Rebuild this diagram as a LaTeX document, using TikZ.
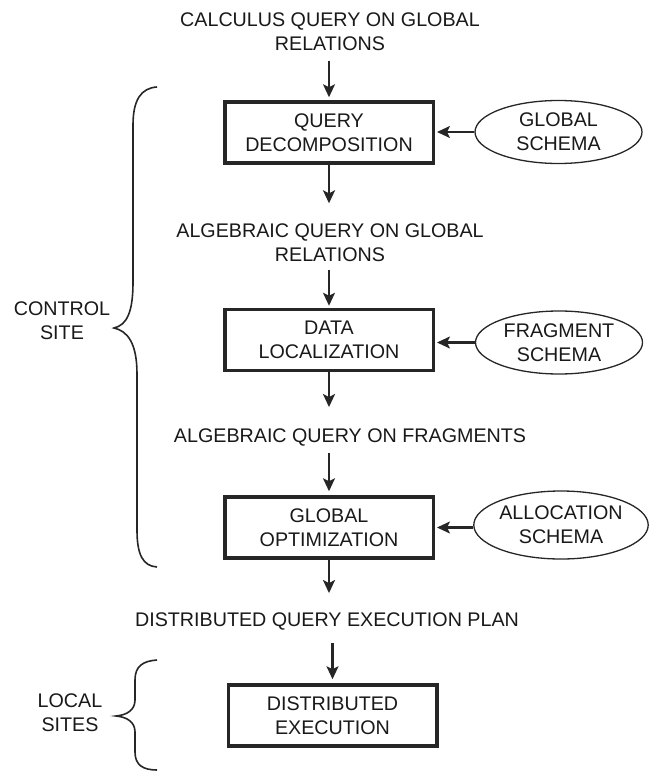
\documentclass[tikz,border=0pt]{standalone}
\usepackage{fontspec}
\setmainfont{Liberation Sans}
\usetikzlibrary{arrows.meta,shapes.geometric}

\tikzset{
  stage/.style={draw=black!85, line width=3.5pt, minimum width=208.5pt, minimum height=61pt, align=center, inner sep=0pt},
  schema/.style={ellipse, draw=black!85, line width=1.3pt, minimum width=167pt, minimum height=63pt, align=center, inner sep=0pt},
  msg/.style={align=center, inner sep=0pt},
  flow/.style={-{Stealth[length=13pt,width=12pt,inset=3pt]}, line width=2.2pt, draw=black!85},
  curly/.style={line width=1.6pt, draw=black!85}
}

\begin{document}
\begin{tikzpicture}[x=1pt, y=-1pt, every node/.style={font=\fontsize{19.7}{24}\selectfont, text=black!90}]
\useasboundingbox (0,0) rectangle (652,773);
% main column
\node [msg] (calc) at (330,31.5) {CALCULUS QUERY ON GLOBAL\\RELATIONS};
\node [stage] (decomp) at (329,132.5) {QUERY\\DECOMPOSITION};
\node [msg] (alg) at (330,242.5) {ALGEBRAIC QUERY ON GLOBAL\\RELATIONS};
\node [stage] (local) at (329,340) {DATA\\LOCALIZATION};
\node [msg] (frag) at (350,437) {ALGEBRAIC QUERY ON FRAGMENTS};
\node [stage] (optim) at (329,527.5) {GLOBAL\\OPTIMIZATION};
\node [msg] (plan) at (327,621) {DISTRIBUTED QUERY EXECUTION PLAN};
\node [stage] (exec) at (332.5,715.5) {DISTRIBUTED\\EXECUTION};
% schemas
\node [schema] (gs) at (558.5,132) {GLOBAL\\SCHEMA};
\node [schema] (fs) at (559,342.5) {FRAGMENT\\SCHEMA};
\node [schema, minimum height=68pt] (as) at (561,525) {ALLOCATION\\SCHEMA};
% flow arrows
\draw [flow, shorten <=10pt, shorten >=3pt] (calc.south -| decomp) -- (decomp.north);
\draw [flow, shorten >=20pt] (decomp.south) -- (decomp.south |- alg.north);
\draw [flow, shorten <=8pt, shorten >=2pt] (alg.south -| local) -- (local.north);
\draw [flow, shorten >=21pt] (local.south) -- (local.south |- frag.north);
\draw [flow, shorten <=7pt, shorten >=4pt] (frag.south -| optim) -- (optim.north);
\draw [flow, shorten >=19pt] (optim.south) -- (optim.south |- plan.north);
\draw [flow, shorten <=13pt, shorten >=4pt] (plan.south -| exec) -- (exec.north);
\draw [flow, shorten >=2pt] (gs.west) -- (decomp.east |- gs.west);
\draw [flow, shorten >=2pt] (fs.west) -- (local.east |- fs.west);
\draw [flow, shorten >=2pt] (as.west |- optim) -- (optim.east);
% braces
\draw [curly] (157,87) .. controls (141,88) and (133,100) .. (133,125) -- (133,282)
  .. controls (133,312) and (127,325) .. (114,328)
  .. controls (128,331) and (137,344) .. (137,374) -- (137,530)
  .. controls (137,555) and (143,566) .. (157,567);
\node [msg] (ctrl) at (62,321) {CONTROL\\SITE};
\draw [curly] (157,660) .. controls (143,661) and (135,666) .. (135,680) -- (135,700)
  .. controls (135,710) and (127,715) .. (116,716)
  .. controls (127,717) and (135,722) .. (135,732) -- (135,752)
  .. controls (135,765) and (143,770) .. (157,770);
\node [msg] (sites) at (70,713) {LOCAL\\SITES};
\end{tikzpicture}
\end{document}
